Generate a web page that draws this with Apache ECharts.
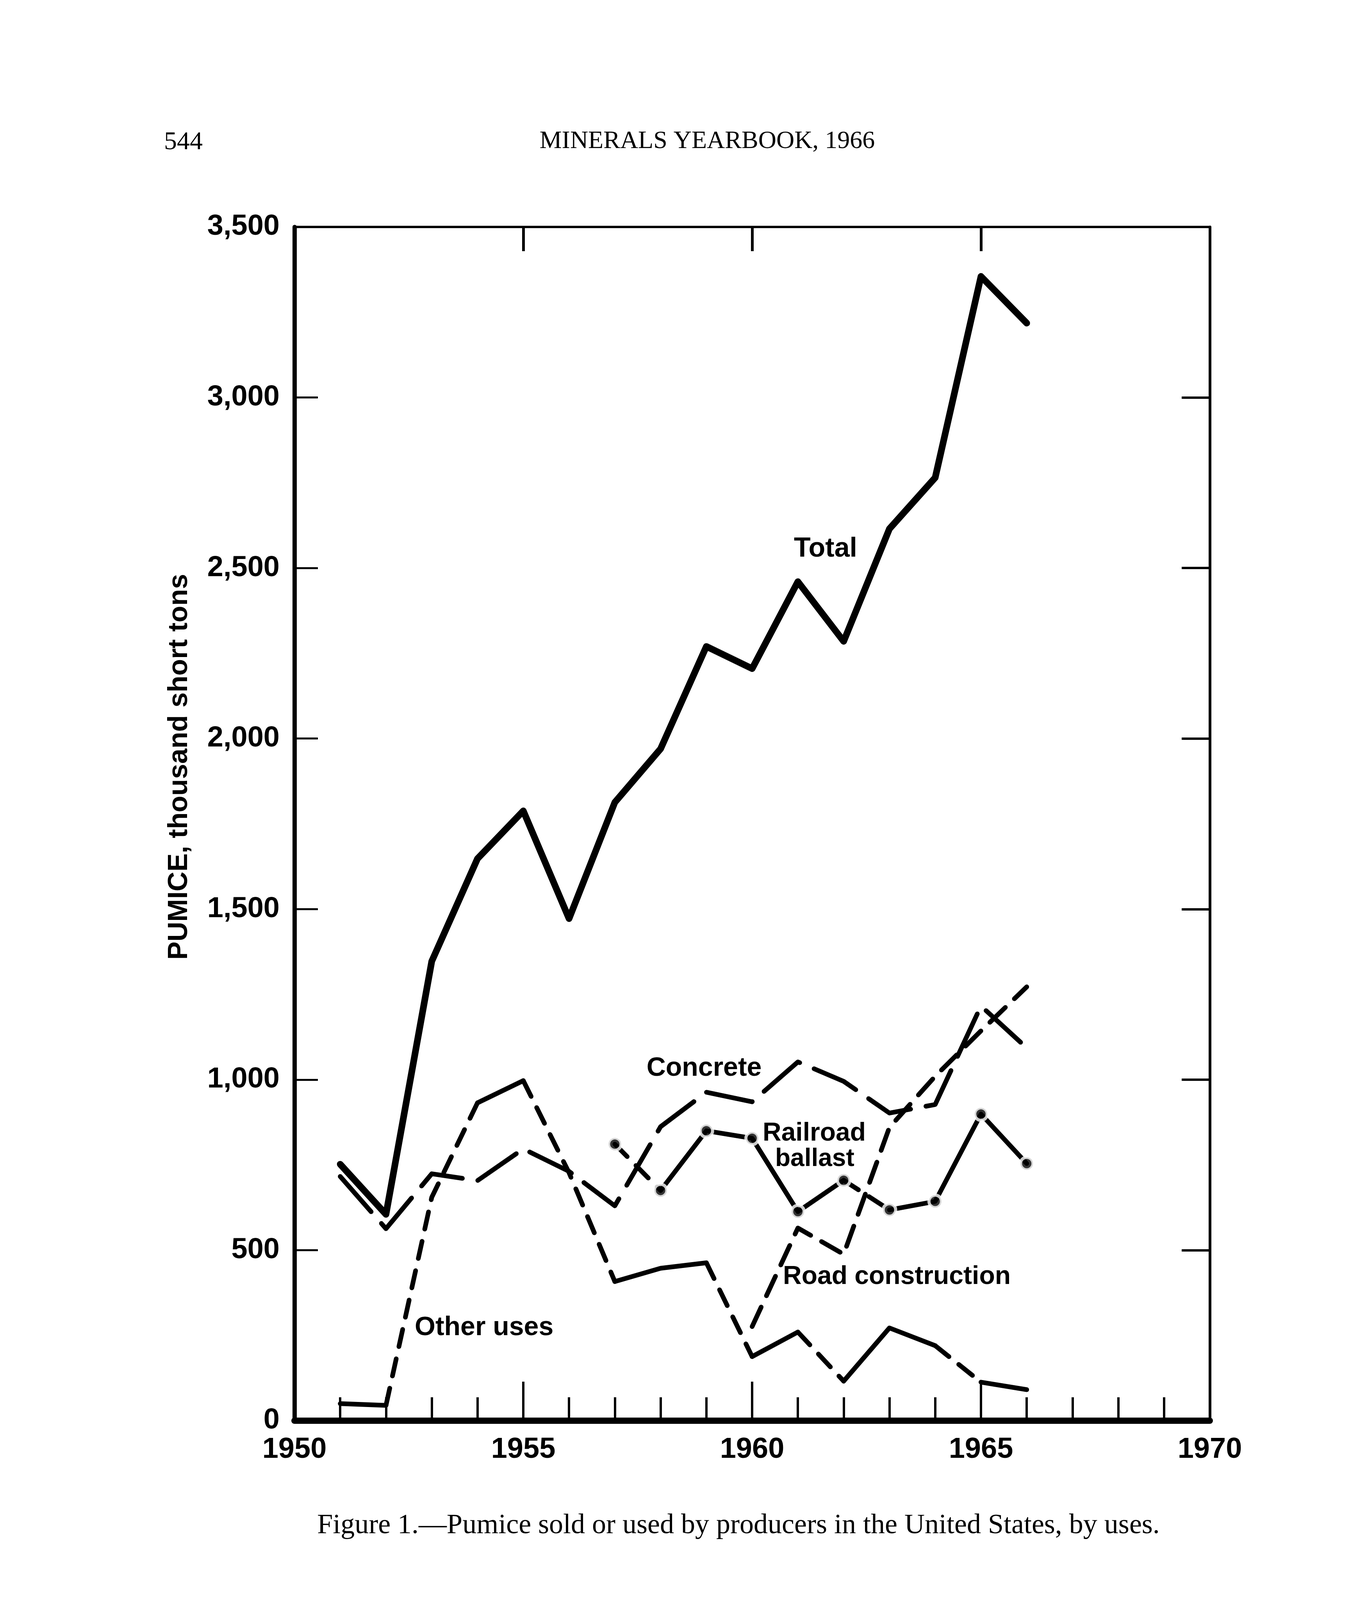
<!DOCTYPE html>
<html><head><meta charset="utf-8">
<script src="https://cdn.jsdelivr.net/npm/echarts@6/dist/echarts.min.js"></script>
<style>html,body{margin:0;padding:0;background:#fff;} #c{width:3457px;height:5418px;}</style>
</head><body><div id="c"></div>
<script>
// ---- data (thousand short tons) ----
const years = [1951,1952,1953,1954,1955,1956,1957,1958,1959,1960,1961,1962,1963,1964,1965,1966];
const totalValues = [752,605,1347,1648,1788,1472,1813,1970,2270,2205,2460,2285,2615,2765,3355,3218];
const concreteValues = [716,563,724,704,797,731,630,862,963,935,1052,995,902,927,1216,1093];
const railroadYears = [1957,1958,1959,1960,1961,1962,1963,1964,1965,1966];
const railroadValues = [811,675,850,828,613,705,618,643,899,754];
const roadYears = [1960,1961,1962,1963,1964,1965,1966];
const roadValues = [276,565,488,860,1010,1143,1272];
const otherValues = [50,45,655,932,997,727,408,447,463,188,260,116,272,220,113,91];
const xTickLabels = [1950,1955,1960,1965,1970];
const yTickLabels = [0,500,1000,1500,2000,2500,3000,3500];
// line style of each segment between consecutive points: s = solid, d = dashed
const otherSegStyle = ['s','d','d','s','d','d','s','s','d','s','d','s','s','d','s'];
const railroadSegStyle = ['d','s','s','s','s','d','s','s','s'];

function pairs(xs, ys){ return xs.map((x,i)=>[x, ys[i]]); }
function segs(xs, ys, styles, kind){
  const out = []; let last = -1;
  for (let i = 0; i < styles.length; i++){
    if (styles[i] !== kind) continue;
    if (last !== i){ if (out.length) out.push([xs[i], '-']); out.push([xs[i], ys[i]]); }
    out.push([xs[i+1], ys[i+1]]); last = i + 1;
  }
  return out;
}
function fmt(v){ return String(v).replace(/\B(?=(\d{3})+(?!\d))/g, ','); }

const SANS = '"Liberation Sans", Arial, sans-serif';
const SERIF = '"Liberation Serif", "Times New Roman", serif';
const W = 12;

function line(name, data, width, dash){
  return {
    name, type: 'line', data, xAxisIndex: 0, yAxisIndex: 0,
    showSymbol: false, symbol: 'none', connectNulls: false, silent: true,
    lineStyle: { color: '#000', width, type: dash || 'solid', cap: 'round', join: 'round' }
  };
}

const chart = echarts.init(document.getElementById('c'), null, {renderer: 'canvas'});
chart.setOption({
  animation: false,
  backgroundColor: '#fff',
  grid: { left: 754, top: 581, width: 2344, height: 3056, containLabel: false },
  xAxis: [
    { type: 'value', position: 'bottom', min: 1950, max: 1970, interval: 5,
      axisLine: { show: true, onZero: false, lineStyle: { color: '#000', width: 16 } },
      axisTick: { show: true, inside: true, length: 100, lineStyle: { color: '#000', width: 6 } },
      minorTick: { show: true, splitNumber: 5, length: 60, lineStyle: { color: '#000', width: 6 } },
      splitLine: { show: false }, minorSplitLine: { show: false },
      axisLabel: { show: true, margin: 38, color: '#000', fontSize: 74, fontWeight: 'bold', fontFamily: SANS,
        formatter: v => (xTickLabels.indexOf(v) >= 0 ? String(v) : '') } },
    { type: 'value', position: 'top', min: 1950, max: 1970, interval: 5,
      axisLine: { show: true, onZero: false, lineStyle: { color: '#000', width: 6 } },
      axisTick: { show: true, inside: true, length: 62, lineStyle: { color: '#000', width: 7 } },
      splitLine: { show: false }, axisLabel: { show: false } }
  ],
  yAxis: [
    { type: 'value', position: 'left', min: 0, max: 3500, interval: 500,
      axisLine: { show: true, onZero: false, lineStyle: { color: '#000', width: 11 } },
      axisTick: { show: true, inside: true, length: 60, lineStyle: { color: '#000', width: 5 } },
      splitLine: { show: false },
      axisLabel: { show: true, margin: 38, color: '#000', fontSize: 74, fontWeight: 'bold', fontFamily: SANS,
        formatter: v => (yTickLabels.indexOf(v) >= 0 ? fmt(v) : '') } },
    { type: 'value', position: 'right', min: 0, max: 3500, interval: 500,
      axisLine: { show: true, onZero: false, lineStyle: { color: '#000', width: 7 } },
      axisTick: { show: true, inside: true, length: 72, lineStyle: { color: '#000', width: 6 } },
      splitLine: { show: false }, axisLabel: { show: false } }
  ],
  series: [
    line('Total', pairs(years, totalValues), 17),
    line('Concrete', pairs(years, concreteValues), W, [120, 40]),
    line('Road construction', pairs(roadYears, roadValues), W, [55, 32]),
    line('Other uses solid', segs(years, otherValues, otherSegStyle, 's'), W),
    line('Other uses dashed', segs(years, otherValues, otherSegStyle, 'd'), W, [45, 32]),
    line('Railroad ballast solid', segs(railroadYears, railroadValues, railroadSegStyle, 's'), W),
    line('Railroad ballast dashed', segs(railroadYears, railroadValues, railroadSegStyle, 'd'), W, [45, 32]),
    { name: 'Railroad ballast points', type: 'scatter', data: pairs(railroadYears, railroadValues),
      symbol: 'circle', symbolSize: 32, silent: true, z: 5,
      itemStyle: { color: '#000', borderColor: '#fff', borderWidth: 8 } }
  ],
  graphic: [
    { type: 'text', x: 420, y: 365, style: { text: '544', fontSize: 66, fontFamily: SERIF, fill: '#000', textAlign: 'left', textVerticalAlign: 'middle' } },
    { type: 'text', x: 1811, y: 362, style: { text: 'MINERALS YEARBOOK, 1966', fontSize: 64, fontFamily: SERIF, fill: '#000', textAlign: 'center', textVerticalAlign: 'middle' } },
    { type: 'text', x: 460, y: 1963, rotation: Math.PI / 2, style: { text: 'PUMICE, thousand short tons', fontSize: 70, fontWeight: 'bold', fontFamily: SANS, fill: '#000', textAlign: 'center', textVerticalAlign: 'middle' } },
    { type: 'text', x: 2114, y: 1406, style: { text: 'Total', fontSize: 70, fontWeight: 'bold', fontFamily: SANS, fill: '#000', textAlign: 'center', textVerticalAlign: 'middle' } },
    { type: 'text', x: 1803, y: 2735, style: { text: 'Concrete', fontSize: 68, fontWeight: 'bold', fontFamily: SANS, fill: '#000', textAlign: 'center', textVerticalAlign: 'middle' } },
    { type: 'text', x: 1953, y: 2902, style: { text: 'Railroad', fontSize: 66, fontWeight: 'bold', fontFamily: SANS, fill: '#000', textAlign: 'left', textVerticalAlign: 'middle' } },
    { type: 'text', x: 1985, y: 2967, style: { text: 'ballast', fontSize: 64, fontWeight: 'bold', fontFamily: SANS, fill: '#000', textAlign: 'left', textVerticalAlign: 'middle' } },
    { type: 'text', x: 2005, y: 3269, style: { text: 'Road construction', fontSize: 66, fontWeight: 'bold', fontFamily: SANS, fill: '#000', textAlign: 'left', textVerticalAlign: 'middle' } },
    { type: 'text', x: 1062, y: 3399, style: { text: 'Other uses', fontSize: 68, fontWeight: 'bold', fontFamily: SANS, fill: '#000', textAlign: 'left', textVerticalAlign: 'middle' } },
    { type: 'text', x: 1891, y: 3906, style: { text: 'Figure 1.\u2014Pumice sold or used by producers in the United States, by uses.', fontSize: 72, fontFamily: SERIF, fill: '#000', textAlign: 'center', textVerticalAlign: 'middle' } }
  ]
});
</script></body></html>
